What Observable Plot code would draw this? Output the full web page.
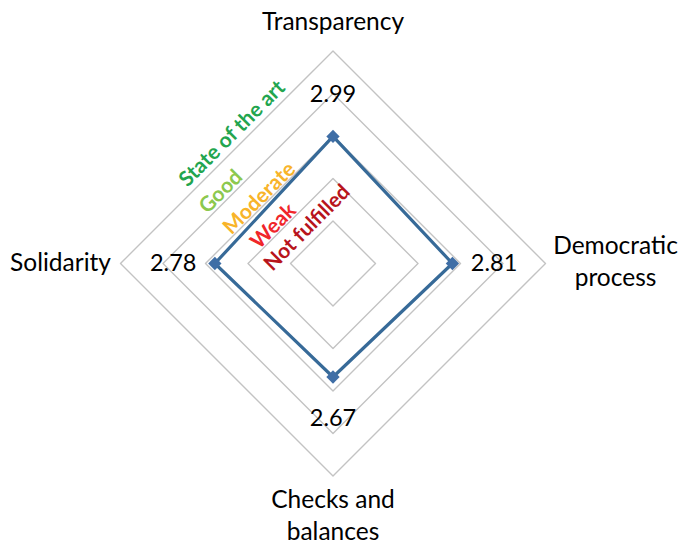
<!DOCTYPE html>
<html>
<head>
<meta charset="utf-8">
<script src="https://cdn.jsdelivr.net/npm/d3@7"></script>
<script src="https://cdn.jsdelivr.net/npm/@observablehq/plot@0.6"></script>
<style>
  html, body { margin: 0; padding: 0; background: #fff; }
  #chart svg { display: block; }
</style>
</head>
<body>
<div id="chart"></div>
<script>
// ---- data ----
const axes = ["Transparency", "Democratic process", "Checks and balances", "Solidarity"];
const axisLabels = ["Transparency", "Democratic\nprocess", "Checks and\nbalances", "Solidarity"];
const values = [2.99, 2.81, 2.67, 2.78];
const gridLevels = [1, 2, 3, 4, 5];
const bandNames = ["Not fulfilled", "Weak", "Moderate", "Good", "State of the art"];
const bandColors = ["#B8141C", "#F0262A", "#F8B42A", "#8CC84E", "#22A54E"];

// ---- layout (not data) ----
const W = 681, H = 543;
const unit = 42.5, cx = 332.5, cy = 263;
const maxLevel = 5;
const bandRadius = [1.45, 2.28, 3.27, 4.33, 5.43];
const bandShare = [0.42, 0.615, 0.53, 0.61, 0.437];
const catDx = [0, 70, 0, -60];
const catDy = [-21.5, 22, 63.5, 7];
const font = "Lato, 'Open Sans', sans-serif";

// angle for each axis: clockwise from top
const ang = i => (i * 2 * Math.PI) / axes.length;
const polar = (i, r) => ({x: r * Math.sin(ang(i)), y: r * Math.cos(ang(i))});

const gridData = gridLevels.flatMap(l =>
  [0, 1, 2, 3, 0].map(i => ({level: l, ...polar(i, l)})));
const seriesPts = values.map((v, i) => ({axis: axes[i], value: v, ...polar(i, v)}));
const seriesLine = [...seriesPts, seriesPts[0]];
const valueLabels = values.map((v, i) => ({text: v.toFixed(2), ...polar(i, v + 0.98)}));
const catData = axisLabels.map((t, i) => ({text: t, dx: catDx[i], dy: catDy[i], ...polar(i, maxLevel)}));

const bandData = bandNames.map((n, k) => {
  const L = bandRadius[k], t = bandShare[k];
  return {text: n, color: bandColors[k], x: -L * t, y: L * (1 - t)};
});

const chart = Plot.plot({
  width: W,
  height: H,
  margin: 0,
  x: {domain: [-cx / unit, (W - cx) / unit], axis: null},
  y: {domain: [-(H - cy) / unit, cy / unit], axis: null},
  style: {fontFamily: font, background: "#fff"},
  marks: [
    Plot.line(gridData, {x: "x", y: "y", z: "level", stroke: "#C3C3C3", strokeWidth: 1.4}),
    Plot.line(seriesLine, {x: "x", y: "y", stroke: "#376A98", strokeWidth: 3.2, strokeLinejoin: "miter"}),
    Plot.dot(seriesPts, {x: "x", y: "y", symbol: "diamond2", r: 6, fill: "#3F6EA6", stroke: "none"}),
    Plot.text(valueLabels, {x: "x", y: "y", text: "text", fontSize: 23.5, fill: "#000"}),
    ...catData.map(d => Plot.text([d], {x: "x", y: "y", text: "text", dx: d.dx, dy: d.dy,
      fontSize: 24.5, fill: "#000", lineHeight: 1.27, lineAnchor: "bottom"})),
    Plot.text(bandData, {x: "x", y: "y", text: "text", fill: "color", fontSize: 21, fontWeight: "bold", rotate: -45})
  ]
});
document.getElementById("chart").appendChild(chart);
</script>
</body>
</html>
